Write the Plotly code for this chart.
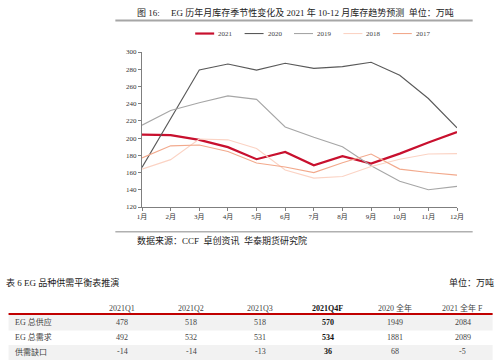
import plotly.graph_objects as go

# ---------------- data ----------------
months = ["1月", "2月", "3月", "4月", "5月", "6月", "7月", "8月", "9月", "10月", "11月", "12月"]
month_idx = list(range(1, 13))
s2021 = [204, 203.5, 198, 189.5, 175.5, 184, 168.5, 179, 170.5, 182, 195, 207]
s2020 = [166, 222, 279, 286, 279, 287, 281, 283, 288, 273, 246, 212]
s2019 = [215, 232, 241, 249, 245, 213, 201, 190, 168, 150, 140, 144]
s2018 = [164, 175, 199, 198, 188, 163, 153.5, 155.5, 167, 175.5, 181.5, 182]
s2017 = [177, 191, 192, 184.5, 171, 166.5, 160, 171.5, 181.5, 164, 160, 157]
y_ticks = [120, 140, 160, 180, 200, 220, 240, 260, 280, 300]

table_cols = ["2021Q1", "2021Q2", "2021Q3", "2021Q4F", "2020 全年", "2021 全年 F"]
table_rows = ["EG 总供应", "EG 总需求", "供需缺口"]
supply = [478, 518, 518, 570, 1949, 2084]
demand = [492, 532, 531, 534, 1881, 2089]
gap = [-14, -14, -13, 36, 68, -5]

chart_title = "图 16:\u2003 EG 历年月库存季节性变化及 2021 年 10-12 月库存趋势预测  单位：万吨"
source_text = "数据来源：CCF  卓创资讯  华泰期货研究院"
table_title = "表 6 EG 品种供需平衡表推演"
table_unit = "单位：万吨"

# ---------------- layout helpers ----------------
W, H = 500, 361
L, R, T, B = 141.7, 457.3, 52.0, 207.3
FONT = "Liberation Serif, Noto Sans CJK SC, serif"


def px(x):
    return (x - L) / (R - L)


def py(y):
    return (B - y) / (B - T)


fig = go.Figure()
series = [
    ("2021", s2021, "#c8102e", 2.2),
    ("2020", s2020, "#595959", 1.1),
    ("2019", s2019, "#a6a6a6", 1.1),
    ("2018", s2018, "#fbd3c4", 1.1),
    ("2017", s2017, "#f2a98c", 1.1),
]
shapes = []
annotations = []
legend_x0 = 195
legend_step = 49.5
for k, (name, vals, color, w) in enumerate(series):
    fig.add_trace(go.Scatter(x=month_idx, y=vals, mode="lines", name=name,
                             line=dict(color=color, width=w), showlegend=False))
    lx = legend_x0 + k * legend_step
    shapes.append(dict(type="line", xref="paper", yref="paper", x0=px(lx), x1=px(lx + 19),
                       y0=py(33.5), y1=py(33.5), line=dict(color=color, width=w)))
    annotations.append(dict(x=px(lx + 21), y=py(33.5), xref="paper", yref="paper", text=name,
                            showarrow=False, xanchor="left", yanchor="middle",
                            font=dict(family=FONT, size=7, color="#444")))

# title, lines, source
annotations.append(dict(x=px(135), y=py(12), xref="paper", yref="paper", text=chart_title,
                        showarrow=False, xanchor="left", yanchor="middle",
                        font=dict(family=FONT, size=9, color="#222")))
shapes.append(dict(type="line", xref="paper", yref="paper", x0=px(115), x1=px(473),
                   y0=py(20.5), y1=py(20.5), line=dict(color="#a6a6a6", width=2)))
shapes.append(dict(type="line", xref="paper", yref="paper", x0=px(115), x1=px(473),
                   y0=py(232), y1=py(232), line=dict(color="#b0b0b0", width=1.5)))
annotations.append(dict(x=px(135), y=py(241), xref="paper", yref="paper", text=source_text,
                        showarrow=False, xanchor="left", yanchor="middle",
                        font=dict(family=FONT, size=9, color="#222")))

# table
annotations.append(dict(x=px(3), y=py(283), xref="paper", yref="paper", text=table_title,
                        showarrow=False, xanchor="left", yanchor="middle",
                        font=dict(family=FONT, size=9, color="#222")))
annotations.append(dict(x=px(496), y=py(283), xref="paper", yref="paper", text=table_unit,
                        showarrow=False, xanchor="right", yanchor="middle",
                        font=dict(family=FONT, size=9, color="#222")))
col_x = [122, 191, 260, 328, 395, 463]
row_y = [323, 338, 352.5]
row_bands = [(315.5, 331), None, (345.5, 360.5)]
for band in row_bands:
    if band:
        shapes.append(dict(type="rect", xref="paper", yref="paper", x0=px(8), x1=px(493),
                           y0=py(band[1]), y1=py(band[0]), fillcolor="#f2f2f2",
                           line=dict(width=0), layer="below"))
shapes.append(dict(type="line", xref="paper", yref="paper", x0=px(8), x1=px(493),
                   y0=py(314.5), y1=py(314.5), line=dict(color="#c00000", width=2)))
for i, c in enumerate(table_cols):
    bold = c.endswith("Q4F")
    annotations.append(dict(x=px(col_x[i]), y=py(308.5), xref="paper", yref="paper",
                            text=("<b>%s</b>" % c) if bold else c, showarrow=False,
                            xanchor="center", yanchor="middle",
                            font=dict(family=FONT, size=8, color="#111" if bold else "#444")))
for r, (lab, vals) in enumerate(zip(table_rows, [supply, demand, gap])):
    annotations.append(dict(x=px(12), y=py(row_y[r]), xref="paper", yref="paper", text=lab,
                            showarrow=False, xanchor="left", yanchor="middle",
                            font=dict(family=FONT, size=8, color="#444")))
    for i, v in enumerate(vals):
        bold = i == 3
        t = str(v)
        annotations.append(dict(x=px(col_x[i]), y=py(row_y[r]), xref="paper", yref="paper",
                                text=("<b>%s</b>" % t) if bold else t, showarrow=False,
                                xanchor="center", yanchor="middle",
                                font=dict(family=FONT, size=8, color="#111" if bold else "#444")))

fig.update_layout(
    width=W, height=H,
    margin=dict(l=L, r=W - R, t=T, b=H - B, pad=0, autoexpand=False),
    paper_bgcolor="white", plot_bgcolor="white",
    font=dict(family=FONT, size=7, color="#333"),
    showlegend=False,
    shapes=shapes, annotations=annotations,
)
fig.update_xaxes(range=[1, 12], tickvals=month_idx, ticktext=months, showgrid=False,
                 zeroline=False, showline=True, linecolor="#7f7f7f", linewidth=1,
                 ticks="outside", ticklen=3, tickcolor="#7f7f7f", automargin=False,
                 tickfont=dict(family=FONT, size=7, color="#333"))
fig.update_yaxes(range=[120, 300], tickvals=y_ticks, showgrid=False, zeroline=False,
                 showline=True, linecolor="#7f7f7f", linewidth=1, ticks="outside",
                 ticklen=3, tickcolor="#7f7f7f", automargin=False,
                 tickfont=dict(family=FONT, size=7, color="#333"))

fig.write_html("out.html", config={"displayModeBar": False},
               post_script="document.body.style.margin='0';document.body.style.padding='0';")
